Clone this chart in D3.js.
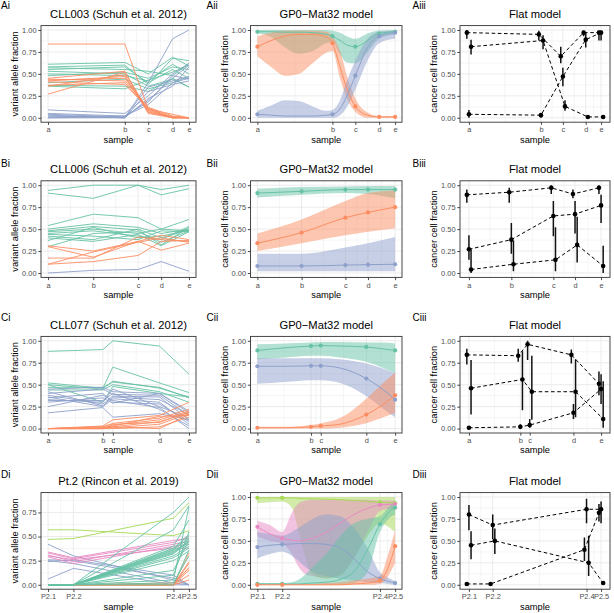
<!DOCTYPE html>
<html><head><meta charset="utf-8">
<script src="https://cdn.jsdelivr.net/npm/d3@7"></script>
<style>
body{margin:0;background:#fff}
svg{display:block}
text{font-family:"Liberation Sans",Arial,Helvetica,sans-serif}
.tick text{opacity:0.99}
</style>
</head><body><svg id="c" width="614" height="613"></svg>
<script>
// ---------------- colours ----------------
const GREEN="#66C2A5", ORANGE="#FC8D62", BLUE="#8DA0CB", PINK="#E78AC3", LIME="#A6D854";

// ---------------- samples ----------------
const samplesA=["a","b","c","d","e"], timesA=[0,0.545,0.711,0.884,1];
const samplesB=["a","b","c","d","e"], timesB=[0,0.321,0.639,0.803,1];
const samplesC=["a","b","c","d","e"], timesC=[0,0.389,0.46,0.791,1];
const samplesD=["P2.1","P2.2","P2.4","P2.5"], timesD=[0,0.18,0.89,1];
const yTicks=[0,0.25,0.5,0.75,1];
const yTickLabels=["0.00","0.25","0.50","0.75","1.00"];

// ---------------- column i: variant allele fractions ----------------
const vafA_green=[[0.61,0.63,0.50,0.69,0.59],[0.58,0.60,0.38,0.68,0.65],[0.57,0.55,0.53,0.48,0.62],[0.55,0.58,0.40,0.55,0.45],[0.53,0.50,0.36,0.44,0.35],[0.50,0.48,0.42,0.61,0.50],[0.48,0.52,0.45,0.58,0.55],[0.37,0.36,0.30,0.45,0.35],[0.36,0.33,0.43,0.52,0.60],[0.40,0.44,0.33,0.40,0.47]];
const vafA_blue=[[0.02,0.00,0.40,0.90,1.00],[0.09,0.05,0.25,0.50,0.62],[0.04,0.01,0.20,0.45,0.60],[0.05,0.02,0.15,0.40,0.45],[0.00,0.00,0.30,0.38,0.42],[0.03,0.00,0.22,0.36,0.58],[0.01,0.02,0.18,0.48,0.44],[0.00,0.01,0.35,0.42,0.47]];
const vafA_orange=[[0.84,0.84,0.10,0.04,0.00],[0.27,0.52,0.08,0.01,0.00],[0.36,0.49,0.07,0.00,0.00],[0.42,0.47,0.06,0.01,0.00],[0.43,0.45,0.09,0.00,0.00],[0.44,0.42,0.12,0.02,0.00],[0.45,0.53,0.05,0.00,0.00],[0.37,0.40,0.10,0.01,0.00],[0.41,0.38,0.11,0.00,0.00]];

const vafB_green=[[0.94,1.00,1.00,0.95,1.00],[0.91,0.85,1.00,0.89,0.96],[0.54,0.67,0.63,0.50,0.61],[0.50,0.56,0.52,0.45,0.50],[0.48,0.53,0.49,0.32,0.52],[0.47,0.50,0.45,0.50,0.48],[0.45,0.48,0.42,0.38,0.53],[0.44,0.42,0.38,0.48,0.47],[0.42,0.38,0.50,0.40,0.49],[0.40,0.36,0.44,0.31,0.47],[0.37,0.52,0.40,0.42,0.49],[0.30,0.45,0.47,0.35,0.48]];
const vafB_orange=[[0.31,0.25,0.36,0.43,0.38],[0.30,0.18,0.36,0.26,0.34],[0.17,0.17,0.41,0.38,0.36],[0.10,0.13,0.20,0.36,0.37],[0.10,0.24,0.35,0.40,0.35]];
const vafB_blue=[[0.00,0.03,0.04,0.13,0.02]];

const vafC_green=[[0.88,0.90,1.00,0.94,0.62],[0.52,0.46,0.70,0.52,0.41],[0.50,0.45,0.54,0.46,0.36],[0.47,0.47,0.53,0.47,0.35],[0.44,0.44,0.50,0.42,0.30],[0.50,0.30,0.48,0.40,0.36]];
const vafC_blue=[[0.45,0.47,0.42,0.40,0.20],[0.40,0.45,0.39,0.38,0.15],[0.38,0.28,0.37,0.36,0.10],[0.36,0.25,0.34,0.30,0.05],[0.35,0.40,0.30,0.28,0.08],[0.33,0.30,0.45,0.25,0.12],[0.32,0.32,0.40,0.22,0.03],[0.30,0.35,0.29,0.40,0.18],[0.25,0.38,0.32,0.24,0.00],[0.18,0.24,0.13,0.17,0.10],[0.42,0.26,0.36,0.33,0.16]];
const vafC_orange=[[0.00,0.03,0.10,0.15,0.30],[0.00,0.02,0.06,0.12,0.22],[0.00,0.00,0.04,0.10,0.20],[0.00,0.01,0.02,0.08,0.18],[0.00,0.00,0.01,0.05,0.17],[0.00,0.01,0.03,0.14,0.15],[0.00,0.00,0.00,0.02,0.13],[0.00,0.02,0.05,0.07,0.19],[0.00,0.00,0.02,0.00,0.16]];

const vafD_blue=[[0.42,0.30,0.05,0.00],[0.26,0.25,0.07,0.00],[0.25,0.22,0.02,0.00],[0.24,0.26,0.10,0.00],[0.06,0.17,0.00,0.00]];
const vafD_pink=[[0.34,0.28,0.46,0.48],[0.33,0.27,0.44,0.50],[0.31,0.24,0.42,0.45],[0.29,0.22,0.40,0.42],[0.30,0.26,0.38,0.38]];
const vafD_lime=[[0.57,0.57,0.51,0.56],[0.47,0.48,0.69,0.85]];
const vafD_orange=[[0,0,0,0.33],[0,0,0,0.24],[0,0,0,0.22],[0,0,0,0.18],[0,0,0,0.15],[0,0,0,0.10],[0,0,0,0.05],[0,0,0.02,0.17]];
const vafD_green=[[0,0,0.75,0.91],[0,0,0.57,0.82],[0,0,0.40,0.67],[0,0,0.38,0.52],[0,0,0.37,0.50],[0,0,0.36,0.48],[0,0,0.35,0.45],[0,0,0.34,0.44],[0,0,0.33,0.42],[0,0,0.30,0.40],[0,0,0.28,0.38],[0,0,0.25,0.35],[0,0,0.15,0.46],[0,0,0.10,0.55],[0,0,0.05,0.81],[0,0,0.02,0.30],[0,0,0.00,0.36],[0,0,0.32,0.47]];

// ---------------- column ii: GP0-Mat32 model (grid, mean, lower, upper) ----------------
const gpA_x=[0,0.1,0.2,0.3,0.4,0.5,0.545,0.6,0.65,0.711,0.8,0.884,1];
const gpA_green_mean=[0.98,0.98,0.975,0.975,0.97,0.95,0.93,0.88,0.83,0.81,0.88,0.96,0.98];
const gpA_green_lo=[0.96,0.92,0.80,0.73,0.76,0.85,0.86,0.72,0.63,0.62,0.75,0.90,0.95];
const gpA_green_hi=[1,1,1,1,1,1,0.99,0.97,0.93,0.90,0.96,0.995,1];
const gpA_orange_mean=[0.81,0.88,0.93,0.95,0.95,0.92,0.85,0.58,0.33,0.13,0.03,0.01,0.01];
const gpA_orange_lo=[0.70,0.58,0.48,0.50,0.62,0.74,0.76,0.45,0.22,0.07,0.0,0.0,0.0];
const gpA_orange_hi=[0.93,0.97,0.99,0.99,0.99,0.98,0.93,0.76,0.48,0.22,0.06,0.02,0.02];
const gpA_blue_mean=[0.04,0.03,0.02,0.02,0.02,0.03,0.04,0.10,0.25,0.48,0.80,0.93,0.97];
const gpA_blue_lo=[0,0,0,0,0,0,0,0.03,0.12,0.32,0.65,0.85,0.90];
const gpA_blue_hi=[0.08,0.14,0.20,0.19,0.13,0.08,0.09,0.20,0.42,0.65,0.90,0.98,0.99];

const gpB_x=[0,0.321,0.639,0.803,1];
const gpB_green_mean=[0.91,0.93,0.95,0.95,0.95];
const gpB_green_lo=[0.86,0.89,0.91,0.90,0.85];
const gpB_green_hi=[0.96,0.98,0.985,0.99,0.99];
const gpB_orange_mean=[0.34,0.46,0.63,0.69,0.75];
const gpB_orange_lo=[0.25,0.34,0.43,0.47,0.51];
const gpB_orange_hi=[0.45,0.61,0.82,0.91,0.94];
const gpB_blue_mean=[0.08,0.08,0.09,0.095,0.10];
const gpB_blue_lo=[0.02,0.02,0.02,0.02,0.02];
const gpB_blue_hi=[0.22,0.22,0.29,0.34,0.41];

const gpC_x=[0,0.2,0.389,0.46,0.6,0.791,0.9,1];
const gpC_green_mean=[0.89,0.92,0.94,0.945,0.94,0.93,0.91,0.89];
const gpC_green_lo=[0.79,0.81,0.83,0.83,0.81,0.76,0.70,0.63];
const gpC_green_hi=[0.96,0.97,0.98,0.985,0.985,0.98,0.98,0.97];
const gpC_blue_mean=[0.71,0.71,0.715,0.715,0.69,0.57,0.46,0.33];
const gpC_blue_lo=[0.51,0.53,0.55,0.55,0.52,0.37,0.24,0.13];
const gpC_blue_hi=[0.80,0.80,0.80,0.80,0.79,0.74,0.69,0.63];
const gpC_orange_mean=[0.01,0.01,0.02,0.03,0.05,0.16,0.26,0.38];
const gpC_orange_lo=[0,0,0,0,0.01,0.06,0.12,0.18];
const gpC_orange_hi=[0.02,0.02,0.04,0.06,0.12,0.34,0.50,0.64];

const gpD_x=[0,0.09,0.18,0.25,0.3,0.35,0.4,0.5,0.6,0.7,0.8,0.89,0.95,1];
const gpD_lime_mean=[0.99,0.99,0.99,0.99,0.985,0.98,0.98,0.975,0.97,0.96,0.95,0.94,0.935,0.93];
const gpD_lime_lo=[0.93,0.94,0.95,0.88,0.60,0.30,0.12,0.07,0.10,0.30,0.55,0.70,0.66,0.60];
const gpD_lime_hi=[1,1,1,1,1,1,1,1,1,1,1,1,1,1];
const gpD_pink_mean=[0.66,0.58,0.53,0.51,0.50,0.51,0.53,0.60,0.70,0.80,0.87,0.91,0.915,0.92];
const gpD_pink_lo=[0.55,0.50,0.47,0.35,0.20,0.12,0.10,0.08,0.12,0.30,0.60,0.84,0.86,0.86];
const gpD_pink_hi=[0.73,0.68,0.60,0.82,0.93,0.96,0.97,0.97,0.97,0.97,0.97,0.96,0.96,0.96];
const gpD_blue_mean=[0.43,0.45,0.46,0.465,0.47,0.47,0.47,0.46,0.42,0.30,0.15,0.07,0.04,0.02];
const gpD_blue_lo=[0.30,0.35,0.38,0.33,0.27,0.20,0.15,0.10,0.07,0.05,0.03,0.02,0.01,0.0];
const gpD_blue_hi=[0.60,0.58,0.56,0.60,0.65,0.70,0.75,0.80,0.78,0.65,0.42,0.14,0.08,0.04];
const gpD_green_mean=[0.01,0.01,0.01,0.01,0.01,0.015,0.02,0.03,0.06,0.15,0.40,0.69,0.82,0.88];
const gpD_green_lo=[0,0,0,0,0,0,0,0,0,0.02,0.15,0.60,0.75,0.80];
const gpD_green_hi=[0.02,0.02,0.02,0.03,0.06,0.12,0.20,0.35,0.55,0.70,0.75,0.78,0.88,0.95];
const gpD_orange_mean=[0,0,0,0,0,0,0,0,0,0.01,0.02,0.05,0.20,0.44];
const gpD_orange_lo=[0,0,0,0,0,0,0,0,0,0,0,0.01,0.10,0.25];
const gpD_orange_hi=[0.01,0.01,0.01,0.01,0.01,0.01,0.01,0.02,0.03,0.05,0.07,0.10,0.35,0.62];

// ---------------- column iii: flat model (point, lower, upper) per dodged cluster ----------------
const flatA_mid=[[0.97,0.95,0.70,0.97,0.97],[0.04,0.03,0.47,0.89,0.97],[0.81,0.88,0.13,0.01,0.01]];
const flatA_lo=[[0.90,0.88,0.62,0.93,0.88],[0.00,0.00,0.36,0.80,0.88],[0.72,0.78,0.08,0.00,0.00]];
const flatA_hi=[[1.00,0.99,0.81,0.99,0.99],[0.09,0.05,0.57,0.97,0.99],[0.89,0.94,0.20,0.03,0.03]];

const flatB_mid=[[0.89,0.92,0.97,0.90,0.97],[0.27,0.38,0.65,0.67,0.77],[0.04,0.10,0.15,0.32,0.08]];
const flatB_lo=[[0.80,0.80,0.90,0.85,0.90],[0.15,0.22,0.42,0.45,0.57],[0.00,0.02,0.02,0.12,0.00]];
const flatB_hi=[[0.95,0.97,1.00,0.95,1.00],[0.43,0.57,0.82,0.82,0.89],[0.27,0.37,0.52,0.64,0.31]];

const flatC_mid=[[0.84,0.83,0.96,0.84,0.51],[0.01,0.02,0.04,0.18,0.45],[0.46,0.56,0.42,0.42,0.11]];
const flatC_lo=[[0.73,0.76,0.78,0.74,0.38],[0.00,0.00,0.01,0.11,0.28],[0.16,0.21,0.10,0.13,0.01]];
const flatC_hi=[[0.91,0.91,1.00,0.90,0.65],[0.02,0.05,0.11,0.28,0.62],[0.78,0.88,0.83,0.79,0.54]];

const flatD_mid=[[0.01,0.01,0.40,0.82],[0.80,0.68,0.86,0.86],[0.45,0.50,0.25,0.02]];
const flatD_lo=[[0.00,0.00,0.27,0.72],[0.62,0.52,0.70,0.70],[0.29,0.35,0.10,0.00]];
const flatD_hi=[[0.02,0.02,0.54,0.92],[0.91,0.80,0.98,0.95],[0.61,0.64,0.56,0.04]];

// ---------------- layout ----------------
const svg=d3.select("#c");
const ROW_TOP=[25.6,180.8,336.4,492.6], ROW_H=96.6;
const COL=[[41,196],[250.5,402],[460,610]];
const LABEL_X=[1,206.5,412.5];
const LABEL_Y=[9.2,167,321,478];
const DODGE=0.016;
let clipId=0;

function minorBreaks(b,lim){
  const bd=b[1]-b[0]; let bb=b.slice();
  if(lim[0]<bb[0]) bb.unshift(bb[0]-bd);
  if(lim[1]>bb[bb.length-1]) bb.push(bb[bb.length-1]+bd);
  return d3.pairs(bb).map(([p,q])=>(p+q)/2).filter(v=>v>lim[0]&&v<lim[1]);
}

function panel(row,col,o){
  const [x0,x1]=COL[col], y0=ROW_TOP[row], y1=y0+ROW_H;
  const xp=(o.xExt[1]-o.xExt[0])*0.05, yp=(o.yExt[1]-o.yExt[0])*0.05;
  const x=d3.scaleLinear().domain([o.xExt[0]-xp,o.xExt[1]+xp]).range([x0,x1]);
  const y=d3.scaleLinear().domain([o.yExt[0]-yp,o.yExt[1]+yp]).range([y1,y0]);
  const g=svg.append("g");
  g.append("rect").attr("x",x0).attr("y",y0).attr("width",x1-x0).attr("height",y1-y0).attr("fill","#fff");
  const yT=o.yTicks.filter(v=>v>=y.domain()[0]&&v<=y.domain()[1]);
  const grid=g.append("g");
  minorBreaks(yT,y.domain()).forEach(v=>grid.append("line").attr("x1",x0).attr("x2",x1).attr("y1",y(v)).attr("y2",y(v)).attr("stroke","#EBEBEB").attr("stroke-width",0.5));
  minorBreaks(o.xTicks,x.domain()).forEach(v=>grid.append("line").attr("y1",y0).attr("y2",y1).attr("x1",x(v)).attr("x2",x(v)).attr("stroke","#EBEBEB").attr("stroke-width",0.5));
  yT.forEach(v=>grid.append("line").attr("x1",x0).attr("x2",x1).attr("y1",y(v)).attr("y2",y(v)).attr("stroke","#EBEBEB").attr("stroke-width",1));
  o.xTicks.forEach(v=>grid.append("line").attr("y1",y0).attr("y2",y1).attr("x1",x(v)).attr("x2",x(v)).attr("stroke","#EBEBEB").attr("stroke-width",1));
  const id="clip"+(clipId++);
  svg.append("clipPath").attr("id",id).append("rect").attr("x",x0).attr("y",y0).attr("width",x1-x0).attr("height",y1-y0);
  const inner=g.append("g").attr("clip-path",`url(#${id})`);
  const ax=g.append("g").attr("transform",`translate(0,${y1})`)
    .call(d3.axisBottom(x).tickValues(o.xTicks).tickFormat((d,i)=>o.xLabels[i]).tickSize(2.7).tickPadding(2.2));
  const ay=g.append("g").attr("transform",`translate(${x0},0)`)
    .call(d3.axisLeft(y).tickValues(yT).tickFormat(d=>yTickLabels[yTicks.indexOf(d)]).tickSize(2.7).tickPadding(1.8));
  [ax,ay].forEach(a=>{a.select(".domain").remove();
    a.selectAll(".tick line").attr("stroke","#333").attr("stroke-width",0.9);
    a.selectAll(".tick text").attr("fill","#4D4D4D").style("font-size","7.4px").style("font-family","'Liberation Sans',Arial,sans-serif");});
  const border=()=>g.append("rect").attr("x",x0).attr("y",y0).attr("width",x1-x0).attr("height",y1-y0).attr("fill","none").attr("stroke","#333").attr("stroke-width",0.9);
  g.append("text").attr("x",(x0+x1)/2).attr("y",y0-7.6).attr("text-anchor","middle").style("font-size","11.2px").attr("fill","#000").text(o.title);
  g.append("text").attr("x",(x0+x1)/2).attr("y",y1+20.3).attr("text-anchor","middle").style("font-size","9.3px").attr("fill","#000").text("sample");
  g.append("text").attr("transform",`translate(${x0-22.6},${(y0+y1)/2}) rotate(-90)`).attr("text-anchor","middle").style("font-size","9.3px").attr("fill","#000").text(o.ylab);
  svg.append("text").attr("x",LABEL_X[col]).attr("y",LABEL_Y[row]).style("font-size","10px").attr("fill","#000").text(o.label);
  return {g:inner,x,y,done:border};
}

function vafPanel(row,times,labels,title,label,groups){
  const all=groups.flatMap(gr=>gr.data.flat());
  const p=panel(row,0,{xExt:d3.extent(times),yExt:[Math.min(0,d3.min(all)),d3.max(all)],xTicks:times,xLabels:labels,yTicks:yTicks,title,ylab:"variant allele fraction",label});
  const line=d3.line().x((d,i)=>p.x(times[i])).y(d=>p.y(d));
  groups.forEach(gr=>gr.data.forEach(s=>p.g.append("path").attr("d",line(s)).attr("fill","none").attr("stroke",gr.color).attr("stroke-width",0.9)));
  p.done();
}

function gpPanel(row,times,labels,label,gx,clusters){
  const p=panel(row,1,{xExt:d3.extent(times),yExt:[0,1],xTicks:times,xLabels:labels,yTicks:yTicks,title:"GP0\u2212Mat32 model",ylab:"cancer cell fraction",label});
  const area=d3.area().x((d,i)=>p.x(gx[i])).y0(d=>p.y(d[0])).y1(d=>p.y(d[1])).curve(d3.curveMonotoneX);
  const line=d3.line().x((d,i)=>p.x(gx[i])).y(d=>p.y(d)).curve(d3.curveMonotoneX);
  clusters.forEach(c=>p.g.append("path").attr("d",area(c.lo.map((v,i)=>[v,c.hi[i]]))).attr("fill",c.color).attr("fill-opacity",0.5));
  clusters.forEach(c=>p.g.append("path").attr("d",line(c.mean)).attr("fill","none").attr("stroke",c.color).attr("stroke-width",1));
  clusters.forEach(c=>times.forEach(t=>{const i=gx.indexOf(t);
    p.g.append("circle").attr("cx",p.x(t)).attr("cy",p.y(c.mean[i])).attr("r",2.1).attr("fill",c.color);}));
  p.done();
}

function flatPanel(row,times,labels,label,mid,lo,hi){
  const n=mid.length, off=i=>(i-(n-1)/2)*DODGE;
  const p=panel(row,2,{xExt:[times[0]-DODGE,times[times.length-1]+DODGE],yExt:[0,1],xTicks:times,xLabels:labels,yTicks:yTicks,title:"Flat model",ylab:"cancer cell fraction",label});
  mid.forEach((s,k)=>{
    const line=d3.line().x((d,i)=>p.x(times[i]+off(k))).y(d=>p.y(d));
    p.g.append("path").attr("d",line(s)).attr("fill","none").attr("stroke","#000").attr("stroke-width",1).attr("stroke-dasharray","3.6,2.6");
  });
  mid.forEach((s,k)=>s.forEach((v,i)=>{
    const xx=p.x(times[i]+off(k));
    p.g.append("line").attr("x1",xx).attr("x2",xx).attr("y1",p.y(lo[k][i])).attr("y2",p.y(hi[k][i])).attr("stroke","#111").attr("stroke-width",1.5);
    p.g.append("circle").attr("cx",xx).attr("cy",p.y(v)).attr("r",2.3).attr("fill","#000");
  }));
  p.done();
}

// ---- row A ----
vafPanel(0,timesA,samplesA,"CLL003 (Schuh et al. 2012)","Ai",[{color:GREEN,data:vafA_green},{color:BLUE,data:vafA_blue},{color:ORANGE,data:vafA_orange}]);
gpPanel(0,timesA,samplesA,"Aii",gpA_x,[
 {color:GREEN,mean:gpA_green_mean,lo:gpA_green_lo,hi:gpA_green_hi},
 {color:ORANGE,mean:gpA_orange_mean,lo:gpA_orange_lo,hi:gpA_orange_hi},
 {color:BLUE,mean:gpA_blue_mean,lo:gpA_blue_lo,hi:gpA_blue_hi}]);
flatPanel(0,timesA,samplesA,"Aiii",flatA_mid,flatA_lo,flatA_hi);
// ---- row B ----
vafPanel(1,timesB,samplesB,"CLL006 (Schuh et al. 2012)","Bi",[{color:GREEN,data:vafB_green},{color:ORANGE,data:vafB_orange},{color:BLUE,data:vafB_blue}]);
gpPanel(1,timesB,samplesB,"Bii",gpB_x,[
 {color:GREEN,mean:gpB_green_mean,lo:gpB_green_lo,hi:gpB_green_hi},
 {color:ORANGE,mean:gpB_orange_mean,lo:gpB_orange_lo,hi:gpB_orange_hi},
 {color:BLUE,mean:gpB_blue_mean,lo:gpB_blue_lo,hi:gpB_blue_hi}]);
flatPanel(1,timesB,samplesB,"Biii",flatB_mid,flatB_lo,flatB_hi);
// ---- row C ----
vafPanel(2,timesC,samplesC,"CLL077 (Schuh et al. 2012)","Ci",[{color:GREEN,data:vafC_green},{color:BLUE,data:vafC_blue},{color:ORANGE,data:vafC_orange}]);
gpPanel(2,timesC,samplesC,"Cii",gpC_x,[
 {color:GREEN,mean:gpC_green_mean,lo:gpC_green_lo,hi:gpC_green_hi},
 {color:BLUE,mean:gpC_blue_mean,lo:gpC_blue_lo,hi:gpC_blue_hi},
 {color:ORANGE,mean:gpC_orange_mean,lo:gpC_orange_lo,hi:gpC_orange_hi}]);
flatPanel(2,timesC,samplesC,"Ciii",flatC_mid,flatC_lo,flatC_hi);
// ---- row D ----
vafPanel(3,timesD,samplesD,"Pt.2 (Rincon et al. 2019)","Di",[{color:BLUE,data:vafD_blue},{color:PINK,data:vafD_pink},{color:LIME,data:vafD_lime},{color:ORANGE,data:vafD_orange},{color:GREEN,data:vafD_green}]);
gpPanel(3,timesD,samplesD,"Dii",gpD_x,[
 {color:LIME,mean:gpD_lime_mean,lo:gpD_lime_lo,hi:gpD_lime_hi},
 {color:PINK,mean:gpD_pink_mean,lo:gpD_pink_lo,hi:gpD_pink_hi},
 {color:BLUE,mean:gpD_blue_mean,lo:gpD_blue_lo,hi:gpD_blue_hi},
 {color:GREEN,mean:gpD_green_mean,lo:gpD_green_lo,hi:gpD_green_hi},
 {color:ORANGE,mean:gpD_orange_mean,lo:gpD_orange_lo,hi:gpD_orange_hi}]);
flatPanel(3,timesD,samplesD,"Diii",flatD_mid,flatD_lo,flatD_hi);
</script></body></html>
